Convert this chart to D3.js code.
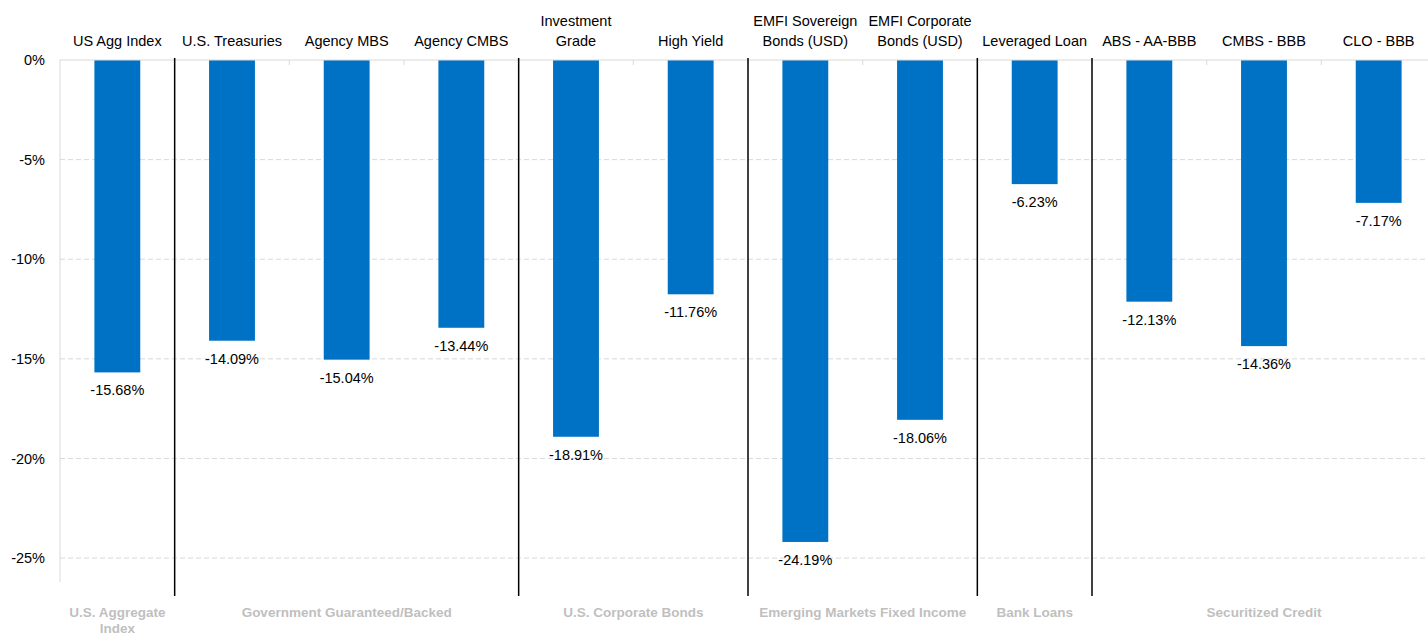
<!DOCTYPE html>
<html lang="en">
<head>
<meta charset="UTF-8">
<title>Fixed income returns</title>
<script src="https://d3js.org/d3.v7.min.js"></script>
<style>
    body { margin: 0; background: #fff; }
    svg { font-family: "Liberation Sans", Arial, sans-serif; }
    .cat-label { font-size: 14.5px; fill: #000; text-anchor: middle; }
    .val-label { font-size: 14.5px; fill: #000; text-anchor: middle; }
    .tick-label { font-size: 14.5px; fill: #000; text-anchor: end; }
    .group-label { font-size: 13.5px; font-weight: bold; fill: #bfbfbf; text-anchor: middle; }
</style>
</head>
<body>
<svg id="chart" width="1428" height="636"></svg>
<script>
    // categories (top labels, "|" = line break)
    const categories = ["US Agg Index", "U.S. Treasuries", "Agency MBS", "Agency CMBS",
        "Investment|Grade", "High Yield", "EMFI Sovereign|Bonds (USD)", "EMFI Corporate|Bonds (USD)",
        "Leveraged Loan", "ABS - AA-BBB", "CMBS - BBB", "CLO - BBB"];
    const returns = [-15.68, -14.09, -15.04, -13.44, -18.91, -11.76, -24.19, -18.06, -6.23, -12.13, -14.36, -7.17];

    // group labels and how many categories each one covers
    const groups = ["U.S. Aggregate|Index", "Government Guaranteed/Backed", "U.S. Corporate Bonds",
        "Emerging Markets Fixed Income", "Bank Loans", "Securitized Credit"];
    const groupSizes = [1, 3, 2, 2, 1, 3];

    const yTicks = [0, -5, -10, -15, -20, -25];

    const width = 1428, height = 636;
    const margin = { top: 60, left: 60, bottom: 54 };
    const plotRight = 1436;

    const svg = d3.select("#chart");

    const x = d3.scaleBand()
        .domain(d3.range(categories.length))
        .range([margin.left, plotRight])
        .paddingInner(0.6)
        .paddingOuter(0.3);

    const step = x.step();
    const bandStart = i => margin.left + i * step;

    const y = d3.scaleLinear()
        .domain([-26.2, 0])
        .range([height - margin.bottom, margin.top]);

    // gridlines
    svg.append("g")
        .selectAll("line")
        .data(yTicks.filter(t => t !== 0))
        .join("line")
        .attr("x1", margin.left)
        .attr("x2", width)
        .attr("y1", d => y(d))
        .attr("y2", d => y(d))
        .attr("stroke", "#d9d9d9")
        .attr("stroke-dasharray", "5,3");

    // y axis line
    svg.append("line")
        .attr("x1", margin.left).attr("x2", margin.left)
        .attr("y1", y(0)).attr("y2", y(-26.2))
        .attr("stroke", "#d9d9d9");

    // y tick labels
    svg.append("g")
        .selectAll("text")
        .data(yTicks)
        .join("text")
        .attr("class", "tick-label")
        .attr("x", 45)
        .attr("y", d => y(d))
        .attr("dy", "0.35em")
        .text(d => d + "%");

    // bars
    svg.append("g")
        .selectAll("rect")
        .data(returns)
        .join("rect")
        .attr("x", (d, i) => x(i))
        .attr("width", x.bandwidth())
        .attr("y", y(0))
        .attr("height", d => y(d) - y(0))
        .attr("fill", "#0072c6");

    // zero line + small band ticks
    svg.append("line")
        .attr("x1", margin.left).attr("x2", width)
        .attr("y1", y(0)).attr("y2", y(0))
        .attr("stroke", "#d9d9d9");

    svg.append("g")
        .selectAll("line")
        .data(d3.range(1, categories.length))
        .join("line")
        .attr("x1", i => bandStart(i)).attr("x2", i => bandStart(i))
        .attr("y1", y(0)).attr("y2", y(0) + 5)
        .attr("stroke", "#d9d9d9");

    // value labels
    svg.append("g")
        .selectAll("text")
        .data(returns)
        .join("text")
        .attr("class", "val-label")
        .attr("x", (d, i) => x(i) + x.bandwidth() / 2)
        .attr("y", d => y(d) + 23)
        .text(d => d.toFixed(2) + "%");

    // category labels on top
    categories.forEach((c, i) => {
        const lines = c.split("|");
        const t = svg.append("text")
            .attr("class", "cat-label")
            .attr("x", x(i) + x.bandwidth() / 2)
            .attr("y", 46 - (lines.length - 1) * 20);
        lines.forEach((l, k) => {
            t.append("tspan")
                .attr("x", x(i) + x.bandwidth() / 2)
                .attr("dy", k === 0 ? 0 : 20)
                .text(l);
        });
    });

    // group separators and labels
    let start = 0;
    groups.forEach((g, gi) => {
        const end = start + groupSizes[gi];
        if (gi > 0) {
            svg.append("line")
                .attr("x1", bandStart(start)).attr("x2", bandStart(start))
                .attr("y1", y(0) - 2).attr("y2", 596)
                .attr("stroke", "#000")
                .attr("stroke-width", 1.5);
        }
        const cx = (bandStart(start) + bandStart(end)) / 2;
        const lines = g.split("|");
        const t = svg.append("text")
            .attr("class", "group-label")
            .attr("x", cx)
            .attr("y", 617);
        lines.forEach((l, k) => {
            t.append("tspan")
                .attr("x", cx)
                .attr("dy", k === 0 ? 0 : 16)
                .text(l);
        });
        start = end;
    });
</script>
</body>
</html>
